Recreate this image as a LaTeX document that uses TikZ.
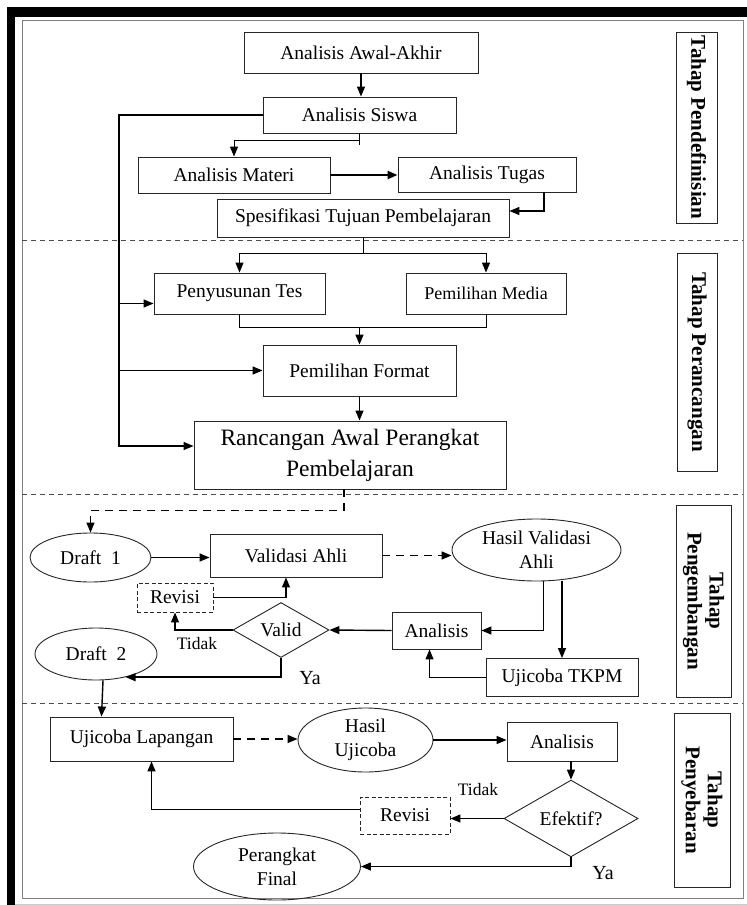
\documentclass[tikz,border=0pt]{standalone}
\usepackage{fontspec}
\setmainfont{Liberation Serif}
\usetikzlibrary{arrows.meta,shapes.geometric,calc}

\tikzset{
  box/.style={draw=black!85, line width=0.9pt, inner sep=0pt, align=center},
  oval/.style={ellipse, draw=black!85, line width=0.9pt, inner sep=0pt, align=center},
  choice/.style={diamond, draw=black!85, line width=0.9pt, inner sep=0pt, align=center},
  fixbox/.style={box, dash pattern=on 4pt off 2.5pt},
  phase/.style={box, rotate=-90, font=\bfseries\fontsize{21}{22}\selectfont},
  note/.style={inner sep=0pt},
  ln/.style={line width=1.4pt},
  arr/.style={line width=1.4pt, -{Triangle[length=10pt,width=8pt]}},
  darr/.style={arr, dash pattern=on 8pt off 6pt},
  sep/.style={draw=black!70, line width=0.9pt, dash pattern=on 5pt off 4pt},
}

\begin{document}
\begin{tikzpicture}[x=1pt,y=-1pt, font=\fontsize{19.5}{24}\selectfont]
  \useasboundingbox (0,0) rectangle (747,905);

  % Frame
  \fill[black] (7,7) rectangle (747,17);
  \fill[black] (7,7) rectangle (15,905);
  \draw[black!50, line width=1pt] (22,20) rectangle (743,898);
  \draw[black!20, line width=0.8pt] (15,904) -- (747,904);

  % Phase separators
  \draw[sep] (22,240) -- (743,240);
  \draw[sep] (22,494) -- (743,494);
  \draw[sep] (22,703) -- (743,703);

  % Phase labels
  \node[phase, minimum width=191pt, minimum height=41pt] (define) at (696.5,127.5) {Tahap Pendefinisian};
  \node[phase, minimum width=218pt, minimum height=40pt] (design) at (697,362) {Tahap Perancangan};
  \node[phase, minimum width=192pt, minimum height=55pt] (develop) at (703.5,601) {Tahap\\Pengembangan};
  \node[phase, minimum width=174pt, minimum height=56pt] (spread) at (702,800) {Tahap\\Penyebaran};

  % Define
  \node[box, minimum width=234pt, minimum height=41pt] (awal) at (361,52.5) {Analisis Awal-Akhir};
  \node[box, minimum width=193pt, minimum height=36pt] (siswa) at (359.5,115) {Analisis Siswa};
  \node[box, minimum width=192pt, minimum height=36pt] (materi) at (234,175) {Analisis Materi};
  \node[box, minimum width=178pt, minimum height=35pt] (tugas) at (487,174.5) {Analisis Tugas};
  \node[box, minimum width=292pt, minimum height=38pt] (spek) at (363,218) {Spesifikasi Tujuan Pembelajaran};

  % Design
  \node[box, minimum width=171pt, minimum height=41pt] (tes) at (239.5,293.5) {Penyusunan Tes};
  \node[box, minimum width=160pt, minimum height=41pt, font=\fontsize{18}{22}\selectfont] (media) at (486,293.5) {Pemilihan Media};
  \node[box, minimum width=193pt, minimum height=51pt] (format) at (359.5,370.5) {Pemilihan Format};
  \node[box, minimum width=312pt, minimum height=68pt, font=\fontsize{23.5}{31}\selectfont] (ranc) at (350,455) {Rancangan Awal Perangkat\\Pembelajaran};

  % Develop
  \node[oval, minimum width=121pt, minimum height=49pt] (draft1) at (90.5,557.5) {Draft~~1};
  \node[box, minimum width=172pt, minimum height=43pt] (validasi) at (296,555.5) {Validasi Ahli};
  \node[oval, minimum width=169pt, minimum height=62pt] (hasilv) at (536.5,550) {Hasil Validasi\\Ahli};
  \node[fixbox, minimum width=76pt, minimum height=29pt] (revisi1) at (175,597.5) {Revisi};
  \node[choice, minimum width=96pt, minimum height=54pt] (valid) at (281,630) {Valid};
  \node[box, minimum width=89pt, minimum height=37pt] (analisis1) at (436.5,630.5) {Analisis};
  \node[box, minimum width=152pt, minimum height=38pt] (tkpm) at (562,677.5) {Ujicoba TKPM};
  \node[oval, minimum width=122pt, minimum height=52pt] (draft2) at (96,654) {Draft~~2};
  \node[note, font=\fontsize{17.5}{20}\selectfont] (tidak1) at (197,644) {Tidak};
  \node[note, font=\fontsize{20}{22}\selectfont] (ya1) at (310,678) {Ya};

  % Disseminate
  \node[box, minimum width=183pt, minimum height=44pt] (ujil) at (141.5,739) {Ujicoba Lapangan};
  \node[oval, minimum width=135pt, minimum height=64pt] (hasilu) at (365.5,740) {Hasil\\Ujicoba};
  \node[box, minimum width=110pt, minimum height=39pt] (analisis2) at (562,741.5) {Analisis};
  \node[choice, minimum width=134pt, minimum height=65pt] (efektif) at (571,818.5) {Efektif?};
  \node[fixbox, minimum width=90pt, minimum height=37pt] (revisi2) at (405,815.5) {Revisi};
  \node[oval, minimum width=167pt, minimum height=67pt] (final) at (277,866.5) {Perangkat\\Final};
  \node[note, font=\fontsize{17.5}{20}\selectfont] (tidak2) at (478,790) {Tidak};
  \node[note, font=\fontsize{20}{22}\selectfont] (ya2) at (603,873) {Ya};

  % Define arrows
  \draw[arr] (awal.south) -- (awal.south |- siswa.north);
  \draw[ln, line width=1pt] (siswa.south) -- ++(0,12);
  \draw[arr, line width=1pt] ([yshift=-7pt]siswa.south) -| (materi.north);
  \draw[arr, line width=2.2pt] (materi.east) -- (materi.east -| tugas.west);
  \draw[arr] ([xshift=57pt]tugas.south) |- ([yshift=7pt]spek.east);

  % Left spine into design
  \coordinate (spine) at (119,115);
  \coordinate (tesin) at ([yshift=-10pt]tes.west);
  \draw[arr] (siswa.west) -- (spine) |- ([yshift=9pt]ranc.west);
  \draw[arr] (spine |- tesin) -- (tesin);
  \draw[arr] (spine |- format.west) -- (format.west);

  % Design arrows
  \coordinate (split) at ($(spek.south)+(0,16)$);
  \draw[ln, line width=1pt] (spek.south) -- (split);
  \draw[arr, line width=1pt] (split) -| (tes.north);
  \draw[arr, line width=1pt] (split) -| (media.north);
  \coordinate (merge) at ($(tes.south)+(0,13)$);
  \draw[ln, line width=1pt] (tes.south) -- (merge) -| (media.south);
  \draw[arr] (merge -| format.north) -- (format.north);
  \draw[arr] (format.south) -- (format.south |- ranc.north);

  % Develop arrows
  \draw[darr, line width=1.1pt] ([xshift=-6pt]ranc.south) -- ++(0,21) -| (draft1.north);
  \draw[arr] (draft1.east) -- (draft1.east -| validasi.west);
  \draw[darr] (validasi.east) -- (validasi.east -| hasilv.west);
  \draw[arr, line width=1.1pt] (revisi1.east) -| ([xshift=-10pt]validasi.south);
  \draw[arr, line width=1.1pt] (valid.west) -| (revisi1.south);
  \draw[arr] (analisis1.west) -- (valid.east);
  \draw[arr] ([xshift=7pt]hasilv.south) |- (analisis1.east);
  \draw[arr] (tkpm.north |- hasilv.south) -- (tkpm.north);
  \draw[arr, line width=1.1pt] (tkpm.west) -| ([xshift=-7pt]analisis1.south);
  \draw[arr] (valid.south) |- (draft2.-38);
  \draw[arr] ([xshift=7pt]draft2.south) -- ([xshift=-40pt]ujil.north);

  % Disseminate arrows
  \draw[darr] (ujil.east) -- (ujil.east -| hasilu.west);
  \draw[arr] (hasilu.east) -- (hasilu.east -| analisis2.west);
  \draw[arr] (analisis2.south -| efektif.north) -- (efektif.north);
  \draw[arr] (efektif.west) -- (efektif.west -| revisi2.east);
  \draw[arr] ([yshift=6pt]revisi2.west) -| ([xshift=10pt]ujil.south);
  \draw[arr] (efektif.south) |- (final.east);

\end{tikzpicture}
\end{document}
